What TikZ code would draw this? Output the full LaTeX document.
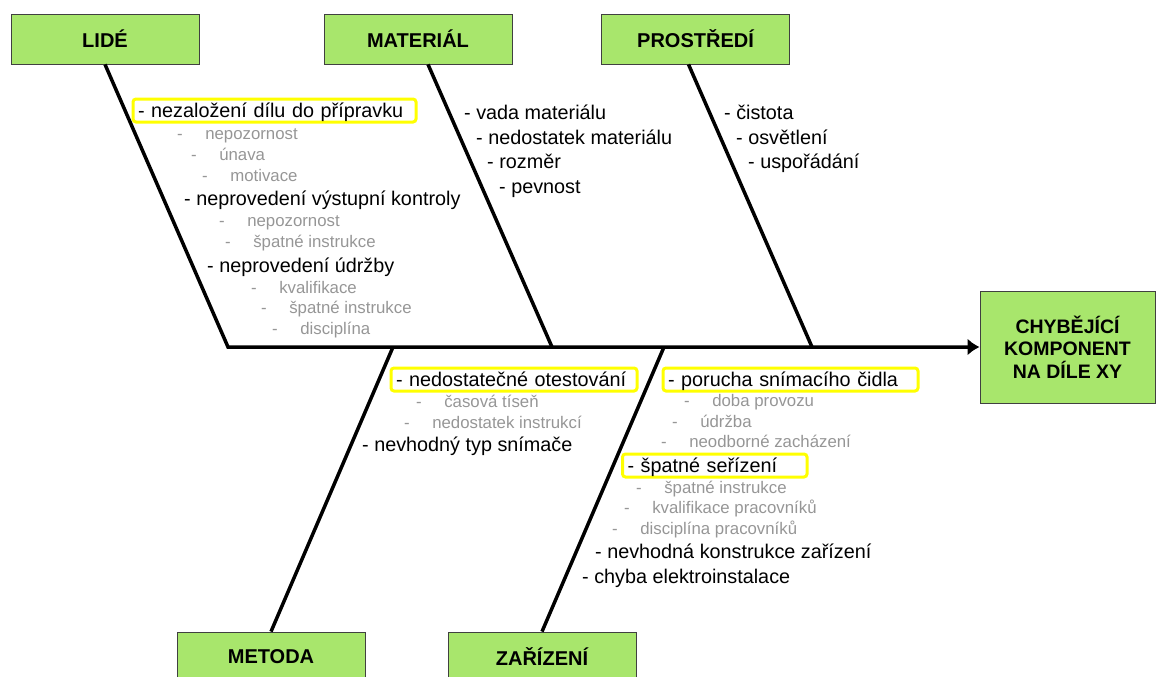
\documentclass[tikz,border=0pt]{standalone}
\usepackage{fontspec}
\setmainfont{Liberation Sans}
\usepackage{tikz}
\usetikzlibrary{positioning,arrows.meta}
\definecolor{boxgreen}{RGB}{168,230,108}
\definecolor{boxline}{RGB}{64,64,64}
\definecolor{hlyellow}{RGB}{255,255,0}
\definecolor{subgray}{RGB}{150,150,150}

\begin{document}
\begin{tikzpicture}[x=1pt, y=-1pt, >={Latex[length=12pt,width=17pt]},
  cat/.style={draw=boxline, fill=boxgreen, line width=0.8pt, minimum width=188pt, minimum height=50pt,
    font=\fontsize{20}{24}\selectfont\bfseries},
  eff/.style={cat, minimum width=175pt, minimum height=112pt, align=center,
    font=\fontsize{19.5}{22.5}\selectfont\bfseries},
  bone/.style={line width=3.5pt},
  it/.style={anchor=base west, inner sep=0pt, font=\fontsize{19.8}{22}\selectfont},
  sb/.style={it, text=subgray, font=\fontsize{16.8}{20}\selectfont, execute at begin node={-\hspace{22.5pt}}},
  hl/.style={it, draw=hlyellow, line width=3pt, rounded corners=3pt, inner xsep=5pt, inner ysep=2pt,
    text height=16pt, text depth=3pt, align=left}]
  \useasboundingbox (0,0) rectangle (1156,677);
  % category boxes and the effect
  \node[cat] (lide) at (105,39) {LIDÉ};
  \node[cat] (mat) at (418,39) {MATERIÁL};
  \node[cat] (env) at (695.5,39) {PROSTŘEDÍ};
  \node[cat] (met) at (271,657) {METODA};
  \node[cat] (dev) at (542,657) {ZAŘÍZENÍ};
  \node[eff] (eff) at (1067.5,347) {CHYBĚJÍCÍ\\KOMPONENT\\NA DÍLE XY};
  % where the bones meet the spine
  \coordinate (j1) at (228,347); \coordinate (j2) at (552,347); \coordinate (j3) at (812,347);
  \coordinate (j4) at (393,347); \coordinate (j5) at (664,347);
  \draw[bone, ->] (lide.south) -- (j1) -- (eff.west);
  \draw[bone] ([xshift=10pt]mat.south) -- (j2);
  \draw[bone] ([xshift=-7pt]env.south) -- (j3);
  \draw[bone] (met.north) -- (j4);
  \draw[bone] (dev.north) -- (j5);
  % LIDÉ
  \node[hl, text width=273pt] (l1) at (131.5,117) {- nezaložení dílu do přípravku};
  \node[sb] (l1a) at (177,139) {nepozornost};
  \node[sb] (l1b) at (191,160) {únava};
  \node[sb] (l1c) at (202,181) {motivace};
  \node[it] (l2) at (184,205) {- neprovedení výstupní kontroly};
  \node[sb] (l2a) at (219,226) {nepozornost};
  \node[sb] (l2b) at (225,247) {špatné instrukce};
  \node[it] (l3) at (207,272) {- neprovedení údržby};
  \node[sb] (l3a) at (251,293) {kvalifikace};
  \node[sb] (l3b) at (261,313) {špatné instrukce};
  \node[sb] (l3c) at (272,334) {disciplína};
  % MATERIÁL
  \node[it] (m1) at (464,119.5) {- vada materiálu};
  \node[it] (m2) at (476,144) {- nedostatek materiálu};
  \node[it] (m3) at (487,168.5) {- rozměr};
  \node[it] (m4) at (499,193) {- pevnost};
  % PROSTŘEDÍ
  \node[it] (p1) at (724,119.5) {- čistota};
  \node[it] (p2) at (736,144) {- osvětlení};
  \node[it] (p3) at (748,168.5) {- uspořádání};
  % METODA
  \node[hl, text width=236pt] (t1) at (389.5,386) {- nedostatečné otestování};
  \node[sb] (t1a) at (416,407) {časová tíseň};
  \node[sb] (t1b) at (404,428) {nedostatek instrukcí};
  \node[it] (t2) at (362,451) {- nevhodný typ snímače};
  % ZAŘÍZENÍ
  \node[hl, text width=245pt] (z1) at (661.5,386) {- porucha snímacího čidla};
  \node[sb] (z1a) at (684,406) {doba provozu};
  \node[sb] (z1b) at (672,427) {údržba};
  \node[sb] (z1c) at (661,447) {neodborné zacházení};
  \node[hl, text width=174.5pt] (z2) at (621,472) {- špatné seřízení};
  \node[sb] (z2a) at (636,493) {špatné instrukce};
  \node[sb] (z2b) at (624,513) {kvalifikace pracovníků};
  \node[sb] (z2c) at (612,534) {disciplína pracovníků};
  \node[it] (z3) at (595,558) {- nevhodná konstrukce zařízení};
  \node[it] (z4) at (582,583) {- chyba elektroinstalace};
\end{tikzpicture}
\end{document}
